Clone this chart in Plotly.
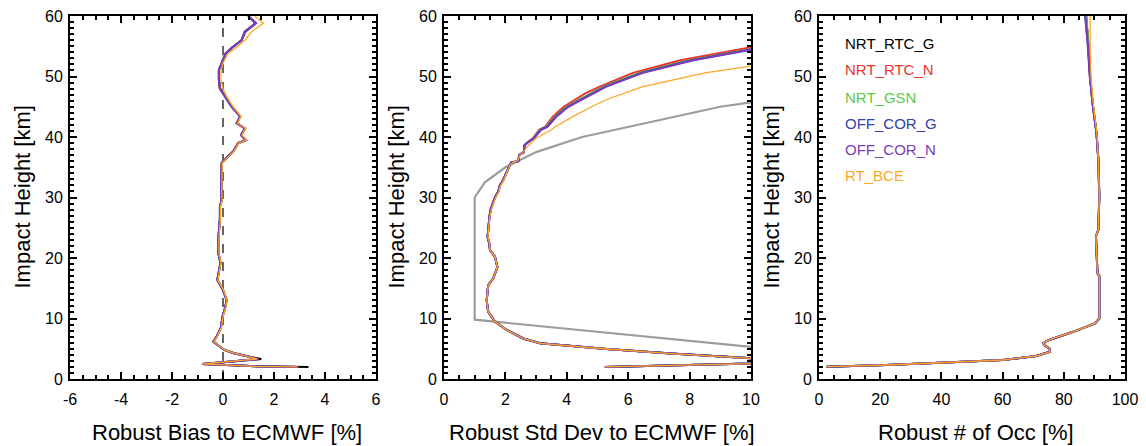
import plotly.graph_objects as go

# ---------------- data ----------------
series_names = ["NRT_RTC_G", "NRT_RTC_N", "NRT_GSN", "OFF_COR_G", "OFF_COR_N", "RT_BCE"]
series_colors = ["#000000", "#e8372f", "#5cc84a", "#2f43aa", "#7d3cbc", "#ffa524"]
series_widths = [2.0, 2.0, 2.0, 2.0, 2.0, 1.3]

# Panel 1: robust bias [%]
h_bias = [2.0, 2.1, 2.5, 3.3, 3.8, 4.3, 4.8, 5.5, 6.2, 7.0, 7.6, 8.5, 10.3, 12.0, 13.1,
          14.7, 16.4, 18.0, 19.2, 20.8, 23.0, 25.0, 26.5, 28.5, 29.6, 31.0, 33.0, 35.7,
          36.8, 37.6, 39.0, 39.5, 40.3, 41.4, 42.3, 43.4, 45.0, 46.7, 48.0, 49.4, 51.1,
          52.2, 53.8, 54.7, 56.0, 57.4, 58.8, 60.0]
bias_nrt_rtc_g = [3.35, 1.3, -0.8, 1.5, 0.9, 0.4, 0.05, -0.15, -0.38, -0.25, -0.18, -0.08, -0.02, 0.1, 0.14,
                  0.0, -0.22, -0.15, -0.1, -0.18, -0.18, -0.15, -0.12, -0.12, -0.05, -0.07, -0.05, -0.05,
                  0.2, 0.4, 0.6, 0.9, 0.71, 0.86, 0.54, 0.67, 0.34, 0.08, -0.12, -0.16, -0.16,
                  -0.05, 0.1, 0.34, 0.73, 0.86, 1.28, 0.99]
bias_nrt_rtc_n = [2.95, 1.3, -0.8, 1.38, 0.9, 0.4, 0.05, -0.15, -0.38, -0.25, -0.18, -0.08, -0.02, 0.1, 0.14,
                  0.0, -0.22, -0.15, -0.1, -0.18, -0.18, -0.15, -0.12, -0.12, -0.05, -0.07, -0.05, -0.05,
                  0.2, 0.4, 0.6, 0.9, 0.71, 0.86, 0.54, 0.67, 0.34, 0.08, -0.12, -0.16, -0.16,
                  -0.05, 0.1, 0.34, 0.73, 0.88, 1.3, 1.0]
bias_nrt_gsn = [2.95, 1.3, -0.8, 1.38, 0.9, 0.4, 0.05, -0.15, -0.38, -0.25, -0.18, -0.08, -0.02, 0.1, 0.14,
                0.0, -0.22, -0.15, -0.1, -0.18, -0.18, -0.15, -0.12, -0.12, -0.05, -0.07, -0.05, -0.05,
                0.2, 0.4, 0.6, 0.9, 0.71, 0.86, 0.54, 0.67, 0.34, 0.08, -0.12, -0.16, -0.16,
                -0.05, 0.1, 0.34, 0.73, 0.86, 1.28, 0.99]
bias_off_cor_g = [2.95, 1.3, -0.8, 1.38, 0.9, 0.4, 0.05, -0.15, -0.38, -0.25, -0.18, -0.08, -0.02, 0.1, 0.14,
                  0.0, -0.22, -0.15, -0.1, -0.18, -0.18, -0.15, -0.12, -0.12, -0.05, -0.07, -0.05, -0.05,
                  0.2, 0.4, 0.6, 0.9, 0.71, 0.86, 0.54, 0.67, 0.34, 0.08, -0.12, -0.16, -0.16,
                  -0.05, 0.1, 0.34, 0.73, 0.86, 1.28, 0.99]
bias_off_cor_n = [2.95, 1.3, -0.8, 1.38, 0.9, 0.4, 0.05, -0.15, -0.38, -0.25, -0.18, -0.08, -0.02, 0.1, 0.14,
                  0.0, -0.22, -0.15, -0.1, -0.18, -0.18, -0.15, -0.12, -0.12, -0.05, -0.07, -0.05, -0.05,
                  0.2, 0.4, 0.6, 0.9, 0.71, 0.86, 0.54, 0.67, 0.34, 0.08, -0.12, -0.16, -0.16,
                  -0.05, 0.1, 0.34, 0.73, 0.86, 1.28, 0.99]
bias_rt_bce = [2.9, 1.3, -0.8, 1.33, 0.9, 0.4, 0.05, -0.15, -0.36, -0.23, -0.16, -0.06, 0.0, 0.12, 0.15,
               0.02, -0.2, -0.13, -0.08, -0.16, -0.16, -0.13, -0.1, -0.1, -0.03, -0.05, -0.03, -0.03,
               0.22, 0.42, 0.62, 0.92, 0.74, 0.88, 0.57, 0.7, 0.4, 0.14, 0.0, -0.08, -0.08,
               0.0, 0.2, 0.5, 0.86, 1.12, 1.58, 1.25]
bias_reference = 0.0

# Panel 2: robust standard deviation [%]
h_std = [2.0, 2.6, 3.0, 3.42, 4.2, 4.96, 5.9, 6.7, 8.1, 9.5, 11.1, 13.0, 15.5, 16.6, 18.5,
         20.2, 21.3, 22.5, 23.5, 24.6, 25.6, 26.8, 28.0, 29.0, 30.0, 31.0, 32.0, 32.9, 34.0,
         35.4, 35.8, 36.0, 37.0, 37.5, 38.6, 39.0,
         39.8, 41.2, 41.7, 43.4, 45.0, 46.2, 47.2, 48.3, 50.6, 52.7, 54.5, 56.0, 58.0, 60.0]
std_nrt_rtc_g = [5.24, 11.5, 14.0, 10.0, 7.4, 5.3, 3.13, 2.58, 2.04, 1.66, 1.44, 1.39, 1.44, 1.6, 1.74,
                 1.66, 1.5, 1.47, 1.42, 1.44, 1.45, 1.48, 1.52, 1.6, 1.66, 1.77, 1.82, 1.93, 2.02,
                 2.15, 2.2, 2.42, 2.45, 2.6, 2.62, 2.7,
                 2.91, 3.13, 3.34, 3.62, 4.0, 4.43, 4.76, 5.19, 6.38, 8.01, 9.97, 11.6, 14.0, 17.0]
std_nrt_rtc_n = [5.24, 11.5, 14.0, 10.0, 7.4, 5.3, 3.13, 2.58, 2.04, 1.66, 1.44, 1.39, 1.44, 1.6, 1.74,
                 1.66, 1.5, 1.47, 1.42, 1.44, 1.45, 1.48, 1.52, 1.6, 1.66, 1.77, 1.82, 1.93, 2.02,
                 2.15, 2.2, 2.42, 2.45, 2.6, 2.62, 2.7,
                 2.9, 3.1, 3.3, 3.55, 3.9, 4.3, 4.6, 5.05, 6.15, 7.7, 9.55, 11.1, 13.4, 16.3]
std_nrt_gsn = [5.24, 11.5, 14.0, 10.0, 7.4, 5.3, 3.13, 2.58, 2.04, 1.66, 1.44, 1.39, 1.44, 1.6, 1.74,
               1.66, 1.5, 1.47, 1.42, 1.44, 1.45, 1.48, 1.52, 1.6, 1.66, 1.77, 1.82, 1.93, 2.02,
               2.15, 2.2, 2.42, 2.45, 2.6, 2.62, 2.7,
               2.91, 3.13, 3.34, 3.62, 4.0, 4.43, 4.76, 5.19, 6.38, 8.01, 9.97, 11.6, 14.0, 17.0]
std_off_cor_g = [5.24, 11.5, 14.0, 10.0, 7.4, 5.3, 3.13, 2.58, 2.04, 1.66, 1.44, 1.39, 1.44, 1.6, 1.74,
                 1.66, 1.5, 1.47, 1.42, 1.44, 1.45, 1.48, 1.52, 1.6, 1.66, 1.77, 1.82, 1.93, 2.02,
                 2.15, 2.2, 2.42, 2.45, 2.6, 2.62, 2.7,
                 2.92, 3.15, 3.36, 3.65, 4.03, 4.46, 4.8, 5.24, 6.44, 8.08, 10.05, 11.7, 14.1, 17.1]
std_off_cor_n = [5.24, 11.5, 14.0, 10.0, 7.4, 5.3, 3.13, 2.58, 2.04, 1.66, 1.44, 1.39, 1.44, 1.6, 1.74,
                 1.66, 1.5, 1.47, 1.42, 1.44, 1.45, 1.48, 1.52, 1.6, 1.66, 1.77, 1.82, 1.93, 2.02,
                 2.15, 2.2, 2.42, 2.45, 2.6, 2.62, 2.7,
                 2.93, 3.16, 3.38, 3.67, 4.05, 4.5, 4.83, 5.27, 6.48, 8.12, 10.1, 11.8, 14.2, 17.2]
std_rt_bce = [5.24, 11.5, 14.0, 10.0, 7.4, 5.3, 3.13, 2.58, 2.04, 1.66, 1.44, 1.39, 1.44, 1.6, 1.74,
              1.66, 1.5, 1.48, 1.43, 1.45, 1.46, 1.49, 1.54, 1.62, 1.68, 1.79, 1.84, 1.95, 2.04,
              2.15, 2.25, 2.38, 2.48, 2.58, 2.75, 2.83,
              3.0, 3.5, 3.62, 4.21, 4.8, 5.3, 5.85, 6.45, 8.5, 11.3, 13.5, 15.5, 18.0, 21.0]
thresh_h = [0.0, 5.0, 9.8, 30.0, 32.5, 35.0, 37.5, 40.0, 45.0, 47.5, 60.0]
thresh_std = [20.0, 10.6, 1.0, 1.0, 1.33, 2.0, 3.0, 4.5, 9.0, 13.0, 30.0]

# Panel 3: robust number of occultations [%]
h_occ = [2.03, 2.31, 2.69, 3.14, 3.8, 4.5, 5.07, 5.5, 5.9, 6.3, 6.7, 7.8, 9.2, 10.0, 10.3,
         17.0, 17.5, 23.6, 24.7, 30.2, 36.2, 40.6, 45.6, 50.0, 55.5, 60.0]
occ_nrt_rtc_g = [2.5, 22.0, 39.5, 60.0, 71.0, 75.5, 75.3, 73.8, 73.3, 74.5, 76.6, 83.1, 90.2, 91.6, 91.6,
                 91.6, 91.0, 90.5, 91.3, 91.6, 91.3, 90.7, 89.4, 88.6, 88.0, 87.3]
occ_nrt_rtc_n = [2.5, 22.0, 39.5, 60.0, 71.0, 75.5, 75.3, 73.8, 73.3, 74.5, 76.6, 83.1, 90.2, 91.6, 91.6,
                 91.6, 91.0, 90.5, 91.3, 91.6, 91.3, 90.7, 89.4, 88.6, 88.0, 87.3]
occ_nrt_gsn = [2.5, 22.0, 39.5, 60.0, 71.0, 75.5, 75.3, 73.8, 73.3, 74.5, 76.6, 83.1, 90.2, 91.6, 91.6,
               91.6, 91.0, 90.5, 91.3, 91.6, 91.3, 90.7, 89.4, 88.6, 88.0, 87.3]
occ_off_cor_g = [2.5, 22.0, 39.5, 60.0, 71.0, 75.5, 75.3, 73.8, 73.3, 74.5, 76.6, 83.1, 90.2, 91.6, 91.6,
                 91.6, 91.0, 90.5, 91.3, 91.6, 91.3, 90.7, 89.4, 88.5, 87.8, 87.0]
occ_off_cor_n = [2.5, 22.0, 39.5, 60.0, 71.0, 75.5, 75.3, 73.8, 73.3, 74.5, 76.6, 83.1, 90.2, 91.6, 91.6,
                 91.6, 91.0, 90.5, 91.3, 91.6, 91.3, 90.7, 89.4, 88.5, 87.8, 87.0]
occ_rt_bce = [2.5, 22.0, 39.5, 60.0, 71.0, 75.5, 75.3, 73.8, 73.3, 74.5, 76.6, 83.1, 90.2, 91.6, 91.6,
              91.6, 91.0, 90.5, 91.3, 91.6, 91.3, 90.8, 89.6, 88.9, 88.6, 88.6]

bias_series = [bias_nrt_rtc_g, bias_nrt_rtc_n, bias_nrt_gsn, bias_off_cor_g, bias_off_cor_n, bias_rt_bce]
std_series = [std_nrt_rtc_g, std_nrt_rtc_n, std_nrt_gsn, std_off_cor_g, std_off_cor_n, std_rt_bce]
occ_series = [occ_nrt_rtc_g, occ_nrt_rtc_n, occ_nrt_gsn, occ_off_cor_g, occ_off_cor_n, occ_rt_bce]

x_titles = ["Robust Bias to ECMWF [%]", "Robust Std Dev to ECMWF [%]", "Robust # of Occ [%]"]
y_title = "Impact Height [km]"
bias_tickvals = [-6, -4, -2, 0, 2, 4, 6]
bias_ticktext = ["-6", "-4", "-2", "0", "2", "4", "6"]

# ---------------- figure ----------------
W, H = 1146, 446
FONT = "Liberation Sans, Arial, Helvetica, sans-serif"
fig = go.Figure()

# threshold line (grey) in panel 2
fig.add_trace(go.Scatter(x=thresh_std, y=thresh_h, mode="lines", xaxis="x2", yaxis="y2",
                         line=dict(color="#9c9c9c", width=2.2), showlegend=False, hoverinfo="skip"))

for vals, ax in [(bias_series, ("x", "y")), (std_series, ("x2", "y2")), (occ_series, ("x3", "y3"))]:
    hh = {"x": h_bias, "x2": h_std, "x3": h_occ}[ax[0]]
    for name, v, c, w in zip(series_names, vals, series_colors, series_widths):
        fig.add_trace(go.Scatter(x=v, y=hh, mode="lines", name=name, xaxis=ax[0], yaxis=ax[1],
                                 line=dict(color=c, width=w), showlegend=False))

# zero reference in panel 1
fig.add_shape(type="line", xref="x", yref="y domain", x0=bias_reference, x1=bias_reference,
              y0=0, y1=1, line=dict(color="black", width=1.2, dash="dash"), layer="below")

px = lambda p: p / W
doms = [(70, 376), (444, 751), (819, 1125)]
ydom = [(H - 379) / H, (H - 16) / H]
ranges = [[-6, 6], [0, 10], [0, 100]]
dticks = [2, 2, 20]
minors = [0.5, 0.5, 5]

axis_common = dict(showgrid=False, zeroline=False, showline=True, linecolor="black", linewidth=2,
                   mirror="allticks", ticks="inside", ticklen=7, tickwidth=1.5, tickcolor="black",
                   automargin=False,
                   tickfont=dict(family=FONT, size=16, color="black"))

layout = dict(width=W, height=H, margin=dict(l=0, r=0, t=0, b=0, autoexpand=False),
              paper_bgcolor="white",
              plot_bgcolor="white", showlegend=False, font=dict(family=FONT, color="black"))
for i in range(3):
    sfx = "" if i == 0 else str(i + 1)
    xa = dict(axis_common, domain=[px(doms[i][0]), px(doms[i][1])],
              range=ranges[i], dtick=dticks[i], tick0=0, ticklabelstandoff=5,
              anchor="y" + sfx,
              minor=dict(dtick=minors[i], ticklen=4, tickwidth=1.5,
                         tickcolor="black", ticks="inside", showgrid=False))
    if i == 0:
        xa.update(tickmode="array", tickvals=bias_tickvals, ticktext=bias_ticktext)
    layout["xaxis" + sfx] = xa
    layout["yaxis" + sfx] = dict(axis_common, domain=ydom, range=[0, 60], dtick=10, tick0=0,
                                 anchor="x" + sfx, ticklabelstandoff=2,
                                 minor=dict(dtick=1, ticklen=4, tickwidth=1.5,
                                            tickcolor="black", ticks="inside", showgrid=False))
fig.update_layout(**layout)

ann = []
for i in range(3):
    cx = (doms[i][0] + doms[i][1]) / 2 + 4
    ann.append(dict(text=x_titles[i], x=px(cx), y=(H - 432) / H, xref="paper", yref="paper",
                    showarrow=False, xanchor="center", yanchor="middle",
                    font=dict(family=FONT, size=22, color="black")))
    ann.append(dict(text=y_title, x=px(doms[i][0] - 48), y=(ydom[0] + ydom[1]) / 2,
                    xref="paper", yref="paper", showarrow=False, textangle=-90,
                    xanchor="center", yanchor="middle",
                    font=dict(family=FONT, size=22, color="black")))

legend_h = [55.4, 51.1, 46.6, 42.3, 37.9, 33.6]
for name, c, hy in zip(series_names, series_colors, legend_h):
    ann.append(dict(text=name, x=7.8, y=hy, xref="x3", yref="y3", showarrow=False,
                    xanchor="left", yanchor="middle", font=dict(family=FONT, size=15, color=c)))
fig.update_layout(annotations=ann)

fig.write_html("out.html", config={"displayModeBar": False},
               post_script="document.body.style.margin='0px';document.body.style.overflow='hidden';")
